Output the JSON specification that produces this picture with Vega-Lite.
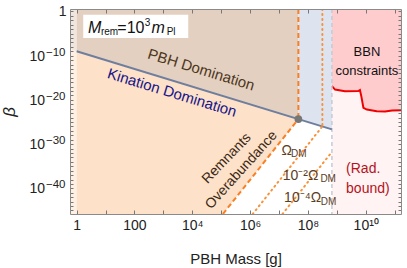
{
"$schema": "https://vega.github.io/schema/vega-lite/v6.json",
"width": 331, "height": 205,
"autosize": {"type": "none"},
"padding": {"left": 70, "top": 9, "right": 6, "bottom": 54},
"background": "white",
"view": {"stroke": null},
"config": {"font": "Liberation Sans"},
"datasets": {
 "regions": [
  {"r": "stripTop", "m": 0.5888, "b": 3.548, "b2": 2.884e-9},
  {"r": "stripTop", "m": 1, "b": 3.548, "b2": 1e-9},
  {"r": "stripBot", "m": 0.5888, "b": 2.884e-9, "b2": 1.585e-46},
  {"r": "stripBot", "m": 1, "b": 1e-9, "b2": 1.585e-46},
  {"r": "pbh", "m": 1, "b": 3.548, "b2": 1e-9},
  {"r": "pbh", "m": 4.677e7, "b": 3.548, "b2": 4.57e-25},
  {"r": "rem", "m": 1, "b": 1e-9, "b2": 1.585e-46},
  {"r": "rem", "m": 1.148e5, "b": 7.586e-20, "b2": 1.585e-46},
  {"r": "rem", "m": 4.677e7, "b": 4.57e-25, "b2": 4.57e-25},
  {"r": "blue", "m": 4.677e7, "b": 3.548, "b2": 4.57e-25},
  {"r": "blue", "m": 6.761e8, "b": 3.548, "b2": 2.188e-27},
  {"r": "rad", "m": 6.761e8, "b": 3.548, "b2": 1.585e-46},
  {"r": "rad", "m": 1.66e11, "b": 3.548, "b2": 1.585e-46}
 ],
 "bbn": [
  {"m": 6.761e8, "b": 1.318e-17, "b2": 3.548},
  {"m": 8.71e8, "b": 2.138e-18, "b2": 3.548},
  {"m": 1.905e9, "b": 8.71e-19, "b2": 3.548},
  {"m": 5.495e9, "b": 9.77e-19, "b2": 3.548},
  {"m": 6.31e9, "b": 1.622e-18, "b2": 3.548},
  {"m": 7.08e9, "b": 5.5e-20, "b2": 3.548},
  {"m": 8.32e9, "b": 1.549e-22, "b2": 3.548},
  {"m": 1.096e10, "b": 6.46e-23, "b2": 3.548},
  {"m": 2.399e10, "b": 2.69e-23, "b2": 3.548},
  {"m": 4.677e10, "b": 2.29e-23, "b2": 3.548},
  {"m": 8.13e10, "b": 3.8e-23, "b2": 3.548},
  {"m": 1.66e11, "b": 4.47e-23, "b2": 3.548}
 ],
 "lines": [
  {"s": "kin", "m": 1, "b": 1e-9},
  {"s": "kin", "m": 6.761e8, "b": 2.188e-27},
  {"s": "dashV", "m": 4.677e7, "b": 3.548},
  {"s": "dashV", "m": 4.677e7, "b": 4.57e-25},
  {"s": "dashD", "m": 4.677e7, "b": 4.57e-25},
  {"s": "dashD", "m": 1.148e5, "b": 1.585e-46},
  {"s": "dot2V", "m": 3.162e8, "b": 3.548},
  {"s": "dot2V", "m": 3.162e8, "b": 1e-26},
  {"s": "dot2D", "m": 3.162e8, "b": 1e-26},
  {"s": "dot2D", "m": 1.23e6, "b": 1.585e-46},
  {"s": "dot4D", "m": 6.761e8, "b": 1.698e-32},
  {"s": "dot4D", "m": 1.318e7, "b": 1.585e-46},
  {"s": "edge", "m": 6.761e8, "b": 3.548},
  {"s": "edge", "m": 6.761e8, "b": 1.585e-46},
  {"s": "dotpt", "m": 4.677e7, "b": 4.57e-25}
 ],
 "yexp": [
  {"base": "10", "t": "−10", "m": 0.5888, "b": 1e-10},
  {"base": "10", "t": "−20", "m": 0.5888, "b": 1e-20},
  {"base": "10", "t": "−30", "m": 0.5888, "b": 1e-30},
  {"base": "10", "t": "−40", "m": 0.5888, "b": 1e-40}
 ],
 "labels": [
  {"k": "pbh", "t": "PBH Domination", "m": 2.04e4, "b": 6.9e-14},
  {"k": "kin", "t": "Kination Domination", "m": 1995, "b": 4.47e-19},
  {"k": "remn", "t": "Remnants", "m": 1.55e5, "b": 5.6e-34},
  {"k": "over", "t": "Overabundance", "m": 5.0e5, "b": 1.41e-36},
  {"k": "bbn", "t": "BBN", "m": 1.1e10, "b": 1e-10},
  {"k": "bbn", "t": "constraints", "m": 1.1e10, "b": 5.1e-15},
  {"k": "rad", "t": "(Rad.", "m": 2.09e9, "b": 2.3e-37},
  {"k": "rad", "t": "bound)", "m": 2.09e9, "b": 7.1e-42},
  {"k": "om", "t": "Ω", "m": 1.23e7, "b": 4.47e-33},
  {"k": "om", "t": "10⁻²Ω", "m": 1.35e7, "b": 1e-38},
  {"k": "om", "t": "10⁻⁴Ω", "m": 1.5e7, "b": 6.6e-44},
  {"k": "omsub", "t": "DM", "m": 2.6e7, "b": 1e-33},
  {"k": "omsub", "t": "DM", "m": 2.7e8, "b": 2.14e-39},
  {"k": "omsub", "t": "DM", "m": 2.8e8, "b": 1.38e-44},
  {"k": "mbig", "t": "M", "m": 2.46, "b": 1.32e-5},
  {"k": "mbig", "t": "m", "m": 390, "b": 1.32e-5},
  {"k": "mnorm", "t": "=10", "m": 25.5, "b": 1.32e-5},
  {"k": "msub", "t": "rem", "m": 6.9, "b": 5.5e-6},
  {"k": "msub", "t": "Pl", "m": 1300, "b": 5.5e-6},
  {"k": "msup", "t": "3", "m": 228, "b": 4.1e-4}
 ]
},
"encoding": {
 "x": {"field": "m", "type": "quantitative", "scale": {"type": "log", "domain": [0.5888, 1.66e11], "nice": false}, "axis": null},
 "y": {"field": "b", "type": "quantitative", "scale": {"type": "log", "domain": [1.585e-46, 3.548], "nice": false}, "axis": null}
},
"resolve": {"axis": {"x": "independent", "y": "independent"}},
"layer": [
 {"data": {"name": "regions"}, "transform": [{"filter": "datum.r == 'stripTop'"}],
  "mark": {"type": "area", "orient": "vertical", "color": "#F1E6DE", "clip": true},
  "encoding": {
   "x": {"field": "m", "type": "quantitative", "scale": {"type": "log", "domain": [0.5888, 1.66e11], "nice": false},
    "axis": {"orient": "bottom", "values": [1, 10, 100, 1000, 10000, 100000, 1000000, 10000000, 100000000, 1000000000, 10000000000, 100000000000],
     "labelExpr": "round(log(datum.value)/LN10) == 0 ? '1' : round(log(datum.value)/LN10) == 2 ? '100' : round(log(datum.value)/LN10) == 4 ? '10⁴' : round(log(datum.value)/LN10) == 6 ? '10⁶' : round(log(datum.value)/LN10) == 8 ? '10⁸' : round(log(datum.value)/LN10) == 10 ? '10¹⁰' : ''",
     "tickSize": -4, "tickColor": "#777", "domainColor": "#8A8A8A", "grid": false, "zindex": 1,
     "labelFontSize": 14, "labelColor": "#222", "labelOverlap": false, "labelFlush": false, "labelPadding": 8,
     "title": "PBH Mass [g]", "titleFontSize": 15, "titleFontWeight": "normal", "titleColor": "#222", "titlePadding": 19}},
   "y": {"field": "b", "type": "quantitative", "scale": {"type": "log", "domain": [1.585e-46, 3.548], "nice": false},
    "axis": {"orient": "left", "values": [1e-45, 1e-44, 1e-43, 1e-42, 1e-41, 1e-40, 1e-39, 1e-38, 1e-37, 1e-36, 1e-35, 1e-34, 1e-33, 1e-32, 1e-31, 1e-30, 1e-29, 1e-28, 1e-27, 1e-26, 1e-25, 1e-24, 1e-23, 1e-22, 1e-21, 1e-20, 1e-19, 1e-18, 1e-17, 1e-16, 1e-15, 1e-14, 1e-13, 1e-12, 1e-11, 1e-10, 1e-9, 1e-8, 1e-7, 1e-6, 1e-5, 1e-4, 1e-3, 1e-2, 1e-1, 1],
     "labelExpr": "round(log(datum.value)/LN10) == 0 ? '1' : ''",
     "tickSize": -3, "tickColor": "#777", "domainColor": "#8A8A8A", "grid": false, "zindex": 1,
     "labelFontSize": 14, "labelColor": "#222", "labelOverlap": false, "labelFlush": false, "labelPadding": 7,
     "title": "β", "titleFontSize": 17, "titleFontStyle": "italic", "titleFontWeight": "normal", "titleColor": "#222", "titlePadding": 40}},
   "y2": {"field": "b2"}}},
 {"data": {"name": "regions"}, "transform": [{"filter": "datum.r == 'stripBot'"}],
  "mark": {"type": "area", "orient": "vertical", "color": "#FFF0E4", "clip": true},
  "encoding": {
   "x": {"field": "m", "type": "quantitative", "scale": {"type": "log", "domain": [0.5888, 1.66e11], "nice": false},
    "axis": {"orient": "top", "values": [1, 10, 100, 1000, 10000, 100000, 1000000, 10000000, 100000000, 1000000000, 10000000000, 100000000000],
     "labels": false, "title": null, "tickSize": -4, "tickColor": "#777", "domainColor": "#8A8A8A", "grid": false, "zindex": 1}},
   "y": {"field": "b", "type": "quantitative", "scale": {"type": "log", "domain": [1.585e-46, 3.548], "nice": false},
    "axis": {"orient": "right", "values": [1e-45, 1e-44, 1e-43, 1e-42, 1e-41, 1e-40, 1e-39, 1e-38, 1e-37, 1e-36, 1e-35, 1e-34, 1e-33, 1e-32, 1e-31, 1e-30, 1e-29, 1e-28, 1e-27, 1e-26, 1e-25, 1e-24, 1e-23, 1e-22, 1e-21, 1e-20, 1e-19, 1e-18, 1e-17, 1e-16, 1e-15, 1e-14, 1e-13, 1e-12, 1e-11, 1e-10, 1e-9, 1e-8, 1e-7, 1e-6, 1e-5, 1e-4, 1e-3, 1e-2, 1e-1, 1],
     "labels": false, "title": null, "tickSize": -3, "tickColor": "#777", "domainColor": "#8A8A8A", "grid": false, "zindex": 1}},
   "y2": {"field": "b2"}}},
 {"data": {"name": "regions"}, "transform": [{"filter": "datum.r == 'pbh'"}],
  "mark": {"type": "area", "orient": "vertical", "color": "#E3D0C1", "clip": true},
  "encoding": {"y2": {"field": "b2"}}},
 {"data": {"name": "regions"}, "transform": [{"filter": "datum.r == 'rem'"}],
  "mark": {"type": "area", "orient": "vertical", "color": "#FDE1C8", "clip": true},
  "encoding": {"y2": {"field": "b2"}}},
 {"data": {"name": "regions"}, "transform": [{"filter": "datum.r == 'blue'"}],
  "mark": {"type": "area", "orient": "vertical", "color": "#DDE4EF", "clip": true},
  "encoding": {"y2": {"field": "b2"}}},
 {"data": {"name": "regions"}, "transform": [{"filter": "datum.r == 'rad'"}],
  "mark": {"type": "area", "orient": "vertical", "color": "#FFF3F3", "clip": true},
  "encoding": {"y2": {"field": "b2"}}},
 {"data": {"name": "bbn"},
  "mark": {"type": "area", "orient": "vertical", "color": "#FFCCCE", "clip": true},
  "encoding": {"y2": {"field": "b2"}}},
 {"data": {"name": "bbn"},
  "mark": {"type": "line", "color": "#F00000", "strokeWidth": 2, "clip": true},
  "encoding": {}},
 {"data": {"name": "lines"}, "transform": [{"filter": "datum.s == 'edge'"}],
  "mark": {"type": "line", "color": "#C5CAD6", "strokeWidth": 1.5, "strokeDash": [4, 3], "clip": true},
  "encoding": {}},
 {"data": {"name": "lines"}, "transform": [{"filter": "datum.s == 'kin'"}],
  "mark": {"type": "line", "color": "#6E7E9E", "strokeWidth": 2, "clip": true},
  "encoding": {}},
 {"data": {"name": "lines"}, "transform": [{"filter": "datum.s == 'dashV' || datum.s == 'dashD'"}],
  "mark": {"type": "line", "color": "#FA7F22", "strokeWidth": 2, "strokeDash": [5, 3], "clip": true},
  "encoding": {"detail": {"field": "s"}}},
 {"data": {"name": "lines"}, "transform": [{"filter": "datum.s == 'dot2V' || datum.s == 'dot2D' || datum.s == 'dot4D'"}],
  "mark": {"type": "line", "color": "#F8923A", "strokeWidth": 2, "strokeDash": [1, 4], "strokeCap": "round", "clip": true},
  "encoding": {"detail": {"field": "s"}}},
 {"data": {"name": "lines"}, "transform": [{"filter": "datum.s == 'dotpt'"}],
  "mark": {"type": "circle", "color": "#777777", "size": 60, "opacity": 1}},
 {"data": {"values": [{"m": 1.69, "m2": 7244, "b": 0.18, "b2": 1e-6}]},
  "mark": {"type": "rect", "color": "white"},
  "encoding": {"x2": {"field": "m2"}, "y2": {"field": "b2"}}},
 {"data": {"name": "yexp"},
  "mark": {"type": "text", "fontSize": 14, "color": "#222", "align": "right", "baseline": "middle", "dx": -25, "dy": 1},
  "encoding": {"text": {"field": "base"}}},
 {"data": {"name": "yexp"},
  "mark": {"type": "text", "fontSize": 11.5, "color": "#222", "align": "left", "baseline": "alphabetic", "dx": -24, "dy": 0},
  "encoding": {"text": {"field": "t"}}},
 {"data": {"name": "labels"}, "transform": [{"filter": "datum.k == 'pbh'"}],
  "mark": {"type": "text", "fontSize": 15, "color": "#4E3720", "angle": 17, "align": "center", "baseline": "middle"},
  "encoding": {"text": {"field": "t"}}},
 {"data": {"name": "labels"}, "transform": [{"filter": "datum.k == 'kin'"}],
  "mark": {"type": "text", "fontSize": 15, "color": "#161688", "angle": 17, "align": "center", "baseline": "middle"},
  "encoding": {"text": {"field": "t"}}},
 {"data": {"name": "labels"}, "transform": [{"filter": "datum.k == 'remn'"}],
  "mark": {"type": "text", "fontSize": 14, "color": "#3A2816", "angle": 314, "align": "center", "baseline": "middle"},
  "encoding": {"text": {"field": "t"}}},
 {"data": {"name": "labels"}, "transform": [{"filter": "datum.k == 'over'"}],
  "mark": {"type": "text", "fontSize": 14, "color": "#3A2816", "angle": 312, "align": "center", "baseline": "middle"},
  "encoding": {"text": {"field": "t"}}},
 {"data": {"name": "labels"}, "transform": [{"filter": "datum.k == 'bbn'"}],
  "mark": {"type": "text", "fontSize": 13, "color": "#111111", "align": "center", "baseline": "alphabetic"},
  "encoding": {"text": {"field": "t"}}},
 {"data": {"name": "labels"}, "transform": [{"filter": "datum.k == 'rad'"}],
  "mark": {"type": "text", "fontSize": 14, "color": "#B5121B", "align": "left", "baseline": "alphabetic"},
  "encoding": {"text": {"field": "t"}}},
 {"data": {"name": "labels"}, "transform": [{"filter": "datum.k == 'om'"}],
  "mark": {"type": "text", "fontSize": 14, "color": "#5C3D1E", "align": "left", "baseline": "alphabetic"},
  "encoding": {"text": {"field": "t"}}},
 {"data": {"name": "labels"}, "transform": [{"filter": "datum.k == 'omsub'"}],
  "mark": {"type": "text", "fontSize": 10, "color": "#5C3D1E", "align": "left", "baseline": "alphabetic"},
  "encoding": {"text": {"field": "t"}}},
 {"data": {"name": "labels"}, "transform": [{"filter": "datum.k == 'mbig'"}],
  "mark": {"type": "text", "fontSize": 16, "fontStyle": "italic", "color": "#111111", "align": "left", "baseline": "alphabetic"},
  "encoding": {"text": {"field": "t"}}},
 {"data": {"name": "labels"}, "transform": [{"filter": "datum.k == 'mnorm'"}],
  "mark": {"type": "text", "fontSize": 16, "color": "#111111", "align": "left", "baseline": "alphabetic"},
  "encoding": {"text": {"field": "t"}}},
 {"data": {"name": "labels"}, "transform": [{"filter": "datum.k == 'msub'"}],
  "mark": {"type": "text", "fontSize": 10, "color": "#111111", "align": "left", "baseline": "alphabetic"},
  "encoding": {"text": {"field": "t"}}},
 {"data": {"name": "labels"}, "transform": [{"filter": "datum.k == 'msup'"}],
  "mark": {"type": "text", "fontSize": 10, "color": "#111111", "align": "left", "baseline": "alphabetic"},
  "encoding": {"text": {"field": "t"}}}
]
}
